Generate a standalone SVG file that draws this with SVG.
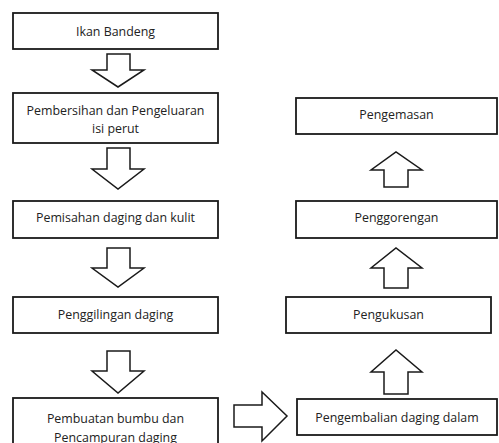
<svg xmlns="http://www.w3.org/2000/svg" width="499" height="443" viewBox="0 0 499 443">
<style>
.box{fill:#fff;stroke:#1a1a1a;stroke-width:1.8}
.arr{fill:#fff;stroke:#1a1a1a;stroke-width:1.5;stroke-linejoin:miter}
text{font-family:"Open Sans","DejaVu Sans",sans-serif;font-size:12.4px;fill:#222;text-anchor:middle}
</style>
<rect width="499" height="443" fill="#fff"/>
<g id="connectors">
<polygon class="arr" points="107,54 130,54 130,70 144,70 118,87 92,70 107,70"/>
<polygon class="arr" points="107,148 130,148 130,169 144,169 118,189 92,169 107,169"/>
<polygon class="arr" points="107,248 130,248 130,268 144,268 118,287 92,268 107,268"/>
<polygon class="arr" points="107,351 130,351 130,371 144,371 118,393 92,371 107,371"/>
<polygon class="arr" points="234,405 262,405 262,392 287,416 262,441 262,427 234,427"/>
<polygon class="arr" points="384,394 408,394 408,372 422,372 396,350 371,372 384,372"/>
<polygon class="arr" points="384,288 408,288 408,268 422,268 396,248 371,268 384,268"/>
<polygon class="arr" points="384,187 408,187 408,170 422,170 396,152 371,170 384,170"/>
</g>
<g id="n1"><rect class="box" x="13" y="13" width="205" height="36"/><text x="115.5" y="35.5">Ikan Bandeng</text></g>
<g id="n2"><rect class="box" x="13" y="93" width="205" height="50"/><text x="115.5" y="114.5">Pembersihan dan Pengeluaran</text><text x="115.5" y="132.5">isi perut</text></g>
<g id="n3"><rect class="box" x="13" y="201" width="205" height="37"/><text x="115.5" y="221.5">Pemisahan daging dan kulit</text></g>
<g id="n4"><rect class="box" x="13" y="297" width="205" height="36"/><text x="115.5" y="318.5">Penggilingan daging</text></g>
<g id="n5"><rect class="box" x="13" y="398" width="205" height="60"/><text x="115.5" y="422.5">Pembuatan bumbu dan</text><text x="115.5" y="441.5">Pencampuran daging</text></g>
<g id="n6"><rect class="box" x="297" y="399" width="200" height="36"/><text x="397" y="421.5">Pengembalian daging dalam</text></g>
<g id="n7"><rect class="box" x="286" y="297" width="205" height="36"/><text x="388.5" y="318.5">Pengukusan</text></g>
<g id="n8"><rect class="box" x="296" y="201" width="201" height="37"/><text x="396.5" y="221.5">Penggorengan</text></g>
<g id="n9"><rect class="box" x="296" y="98" width="201" height="36"/><text x="396.5" y="118.5">Pengemasan</text></g>
</svg>
